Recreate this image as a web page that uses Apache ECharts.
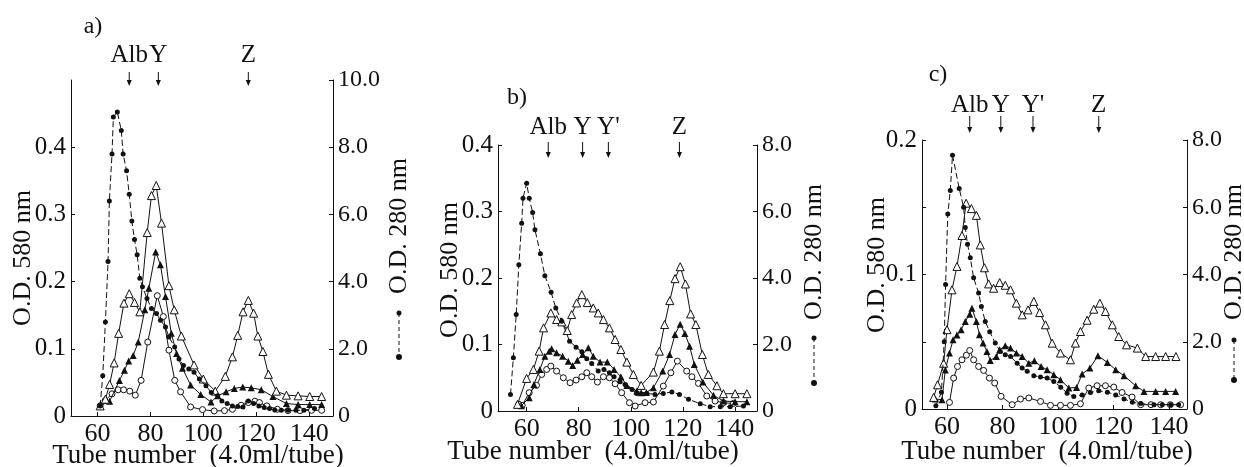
<!DOCTYPE html>
<html>
<head>
<meta charset="utf-8">
<script src="https://cdn.jsdelivr.net/npm/echarts@6/dist/echarts.min.js"></script>
<style>
html,body{margin:0;padding:0;background:#fff;}
#c{width:1244px;height:467px;}
</style>
</head>
<body>
<div id="c"></div>
<script>
// ---------- tick labels ----------
const xTickValues = [60, 80, 100, 120, 140];
const aLeftTicks = [0, 0.1, 0.2, 0.3, 0.4];
const aRightTicks = [0, 2, 4, 6, 8, 10];
const bLeftTicks = [0, 0.1, 0.2, 0.3, 0.4];
const bRightTicks = [0, 2, 4, 6, 8];
const cLeftTicks = [0, 0.1, 0.2];
const cRightTicks = [0, 2, 4, 6, 8];

// ---------- annotation peaks (tube numbers) ----------
const aPeakNames = ['Alb', 'Y', 'Z'];
const aPeakTubes = [72, 83, 117];
const bPeakNames = ['Alb', 'Y', "Y'", 'Z'];
const bPeakTubes = [68.3, 81.5, 91.4, 118.7];
const cPeakNames = ['Alb', 'Y', "Y'", 'Z'];
const cPeakTubes = [68.2, 79.4, 91, 114.7];

// ---------- panel a ----------
const aX280 = [61, 62, 63, 64, 64.5, 65.5, 66, 67.5, 69, 69.7, 71, 72, 73, 74, 75, 76, 77, 78.7, 80.4, 82.3, 83.8, 85.7, 87, 89.2, 90.8, 92.5, 94.5, 96.5, 98.5, 101, 103, 105.4, 107, 109, 111, 113, 115, 117, 119, 121, 123, 125, 127, 129.5, 132, 135, 138, 142];
const aY280 = [0.3, 1.2, 2.8, 4.6, 6.4, 7.8, 8.9, 9.05, 8.5, 7.8, 7.3, 6.6, 5.8, 5.25, 4.8, 4.1, 3.85, 3.5, 3.2, 3.05, 2.85, 2.65, 2.35, 2.05, 1.7, 1.5, 1.4, 1.3, 1.1, 0.9, 0.7, 0.6, 0.45, 0.37, 0.3, 0.28, 0.27, 0.45, 0.37, 0.3, 0.25, 0.22, 0.18, 0.17, 0.17, 0.17, 0.17, 0.22];
const aXOpenTri = [61, 63, 64.6, 66.3, 68, 70, 72, 74, 76, 78.8, 80.4, 82.2, 84.2, 87, 89, 91.7, 96.5, 100, 104.5, 108.3, 111, 113, 115, 117, 119, 120.6, 122.5, 124.6, 127.6, 131.4, 135.8, 140.2, 144.7];
const aYOpenTri = [0.015, 0.025, 0.047, 0.079, 0.123, 0.168, 0.182, 0.169, 0.155, 0.273, 0.328, 0.343, 0.287, 0.194, 0.158, 0.119, 0.076, 0.055, 0.037, 0.059, 0.088, 0.12, 0.155, 0.172, 0.153, 0.119, 0.096, 0.062, 0.037, 0.031, 0.030, 0.029, 0.029];
const aXFillTri = [61, 64.6, 68.3, 70.2, 71.8, 73.5, 75.4, 77.9, 79.4, 82, 83.8, 85.7, 87.9, 89.9, 92.1, 95.2, 99, 102.9, 105.5, 108.6, 111.7, 114.9, 118.1, 121.9, 126.3, 131.4, 135.8, 140.2, 144.7];
const aYFillTri = [0.015, 0.022, 0.053, 0.068, 0.082, 0.09, 0.11, 0.158, 0.19, 0.244, 0.225, 0.178, 0.123, 0.093, 0.071, 0.046, 0.032, 0.021, 0.030, 0.036, 0.041, 0.043, 0.042, 0.039, 0.029, 0.0185, 0.017, 0.017, 0.017];
const aXOpenCir = [61, 62.9, 65.5, 67.8, 69.9, 72.2, 74.3, 76.5, 79, 82.6, 84.9, 87, 89.2, 91.4, 95.2, 99.7, 104.1, 108, 111, 114.3, 117, 119.5, 121.2, 124, 128, 132, 136.5, 140.9, 144.7];
const aYOpenCir = [0.015, 0.023, 0.033, 0.039, 0.039, 0.037, 0.031, 0.053, 0.11, 0.179, 0.148, 0.098, 0.053, 0.036, 0.0135, 0.0095, 0.0075, 0.008, 0.010, 0.016, 0.020, 0.022, 0.020, 0.015, 0.010, 0.008, 0.008, 0.0085, 0.0085];

// ---------- panel b ----------
const bX280 = [53.8, 54.9, 56, 57, 58.1, 58.6, 60, 61, 62.3, 63.2, 65.3, 67, 69.4, 71.2, 73.5, 76.5, 79, 81.2, 83.1, 85, 87.5, 89.7, 91.8, 93.6, 95.9, 97.8, 100.5, 102.3, 106.2, 109.3, 112.5, 115.8, 118.7, 122.2, 126.7, 130.5, 134.4, 138.2, 143.3];
const bY280 = [0.5, 1.6, 2.9, 4.4, 5.65, 6.4, 6.85, 6.4, 5.97, 5.45, 4.73, 4.07, 3.57, 3.1, 2.7, 2.1, 1.92, 1.78, 1.57, 1.43, 1.2, 1.25, 1.15, 1.03, 0.88, 0.8, 0.65, 0.53, 0.53, 0.5, 0.53, 0.57, 0.5, 0.35, 0.22, 0.13, 0.13, 0.13, 0.15];
const bXOpenTri = [56.5, 60, 62.6, 64.8, 66.5, 69.3, 71.5, 73.5, 75.6, 77.3, 79.2, 81.2, 83.3, 85.6, 87.5, 89.5, 91.8, 94, 96.2, 98.5, 101, 104, 108.7, 111, 113, 115, 117, 119, 121, 123, 125, 127.5, 129.8, 133.1, 135.6, 140.1, 144.6];
const bYOpenTri = [0.010, 0.049, 0.0625, 0.09, 0.125, 0.1475, 0.1375, 0.134, 0.121, 0.145, 0.1625, 0.175, 0.163, 0.155, 0.1475, 0.1375, 0.125, 0.1075, 0.0925, 0.0735, 0.055, 0.0385, 0.0585, 0.09, 0.13, 0.166, 0.199, 0.217, 0.191, 0.146, 0.130, 0.085, 0.055, 0.038, 0.026, 0.026, 0.026];
const bXFillTri = [58, 61, 62.8, 65.1, 67, 68.7, 69.6, 71.5, 73.8, 76, 77.7, 79.5, 81.5, 83.7, 85.6, 88.2, 91, 93.6, 96.2, 98.5, 102.3, 104, 106, 108.7, 112.3, 114.9, 117, 119, 120.8, 122.6, 124.4, 127.7, 131.8, 135.6, 140.1, 144.6];
const bYFillTri = [0.008, 0.02, 0.04, 0.0625, 0.0825, 0.09, 0.0935, 0.0875, 0.0825, 0.075, 0.0685, 0.0765, 0.085, 0.095, 0.0825, 0.0735, 0.0735, 0.0625, 0.0515, 0.0385, 0.030, 0.0275, 0.028, 0.035, 0.06, 0.085, 0.115, 0.1305, 0.1165, 0.0975, 0.07, 0.0435, 0.0235, 0.015, 0.014, 0.014];
const bXOpenCir = [57, 58.3, 61, 63.8, 65.8, 67.7, 69.3, 71.5, 74.1, 76.7, 79, 81.2, 83.1, 85, 87.2, 89.5, 91.8, 94, 96.5, 99.5, 101.7, 105.5, 108.7, 112.5, 115.4, 117.9, 121.5, 123.5, 126, 129.2, 132.4, 135.6, 139.5];
const bYOpenCir = [0.010, 0.0085, 0.0275, 0.0385, 0.055, 0.0625, 0.0675, 0.060, 0.050, 0.0425, 0.0465, 0.0515, 0.0575, 0.0515, 0.0435, 0.0515, 0.050, 0.041, 0.0275, 0.0125, 0.0075, 0.0125, 0.0135, 0.0375, 0.0575, 0.075, 0.060, 0.0515, 0.0415, 0.0225, 0.015, 0.0125, 0.0115];

// ---------- panel c ----------
const cX280 = [56, 58, 59, 59.5, 60.3, 61.2, 62, 64.4, 66, 66.6, 67.4, 68.4, 69.6, 71.4, 72.4, 73.8, 75.4, 77.4, 79.2, 81, 82.9, 85.3, 87.1, 88.9, 91.3, 93.7, 96.1, 98.5, 101, 103.3, 105.7, 108.7, 111.7, 114.7, 117.8, 120.8, 123.8, 126.8, 129.8, 134.6, 137.6, 140.6, 143.5];
const cY280 = [0.1, 0.5, 2.0, 3.7, 5.8, 6.5, 7.55, 6.56, 6.0, 5.4, 4.9, 4.5, 3.9, 3.45, 3.05, 2.6, 2.3, 1.96, 1.71, 1.61, 1.56, 1.36, 1.22, 1.12, 0.99, 0.95, 0.92, 0.82, 0.65, 0.47, 0.37, 0.42, 0.49, 0.54, 0.5, 0.42, 0.3, 0.2, 0.16, 0.13, 0.13, 0.13, 0.13];
const cXOpenTri = [55.2, 56.6, 58.8, 60, 61.8, 63.6, 65.4, 66.9, 68.8, 70.6, 72, 73.5, 75, 76.8, 79, 81, 82.9, 85, 87.1, 89.2, 91.3, 93.4, 95.5, 97.9, 100.9, 104.5, 106.3, 108.1, 110.5, 112.9, 115.1, 117.1, 119.6, 121.9, 124.7, 128.6, 131.6, 135.2, 138.8, 142.5];
const cYOpenTri = [0.0086, 0.018, 0.034, 0.059, 0.0886, 0.106, 0.129, 0.153, 0.149, 0.144, 0.122, 0.105, 0.093, 0.0898, 0.094, 0.092, 0.0886, 0.0787, 0.070, 0.0737, 0.080, 0.0717, 0.0626, 0.049, 0.0416, 0.0366, 0.049, 0.0576, 0.066, 0.0742, 0.0787, 0.0725, 0.0626, 0.0539, 0.0477, 0.0453, 0.039, 0.039, 0.039, 0.039];
const cXFillTri = [55.8, 58.2, 59.4, 60.9, 62.2, 63.6, 65.1, 66.6, 68.2, 69, 70.6, 71.7, 73, 74.4, 75.6, 77.8, 79, 81, 82.9, 85, 87.1, 89.5, 91.5, 93.9, 96.1, 98.5, 100.9, 103.9, 106.7, 108.7, 111.5, 114.4, 117.8, 120.8, 123.8, 128, 131, 135.2, 138.8, 142.4];
const cYFillTri = [0.0074, 0.0069, 0.029, 0.0416, 0.0514, 0.055, 0.0589, 0.065, 0.0705, 0.075, 0.065, 0.0552, 0.049, 0.0428, 0.0361, 0.039, 0.044, 0.047, 0.0453, 0.0416, 0.039, 0.034, 0.0359, 0.0316, 0.0292, 0.0255, 0.0218, 0.0156, 0.016, 0.026, 0.0304, 0.0396, 0.0346, 0.0292, 0.0247, 0.0173, 0.0131, 0.0131, 0.0131, 0.0131];
const cXOpenCir = [60.9, 62.4, 63.8, 65.4, 67, 68.2, 69.6, 71.4, 73.2, 75.3, 77.2, 79.5, 83.5, 86.5, 89.5, 93.7, 97.3, 100.9, 104.5, 108.1, 111.1, 114.1, 117.1, 120.1, 123.1, 126.7, 129.8, 133.5, 137, 140.5, 144.2];
const cYOpenCir = [0.0049, 0.023, 0.0316, 0.0366, 0.040, 0.0435, 0.0366, 0.0316, 0.0287, 0.023, 0.0193, 0.0094, 0.0032, 0.0074, 0.0082, 0.0056, 0.0027, 0.0027, 0.0027, 0.0039, 0.0156, 0.0173, 0.0173, 0.0163, 0.0123, 0.0089, 0.0032, 0.0032, 0.0032, 0.0032, 0.0032];

// ---------- build ----------
const FONT = '"Liberation Serif", "DejaVu Serif", serif';
const INK = '#111';
const chart = echarts.init(document.getElementById('c'), null, {renderer: 'canvas', width: 1244, height: 467});

const grids = [
  {left: 71, top: 80, width: 262, height: 336},
  {left: 498, top: 145, width: 259, height: 266},
  {left: 922, top: 140, width: 265, height: 269}
];
const xRanges = [[50, 149], [49, 148.5], [51, 146.5]];
const leftMax = [0.5, 0.4, 0.2];
const rightMax = [10, 8, 8];
const leftTicks = [aLeftTicks, bLeftTicks, cLeftTicks];
const rightTicks = [aRightTicks, bRightTicks, cRightTicks];
const leftMinorTicks = [aLeftTicks, bLeftTicks, [0, 0.05, 0.1, 0.15, 0.2]];

function fmt(v) { return v === 0 ? '0' : v.toFixed(1); }

const xAxes = grids.map((g, i) => ({
  type: 'value', gridIndex: i, min: xRanges[i][0], max: xRanges[i][1],
  axisLine: {show: true, lineStyle: {color: INK, width: 1}},
  axisTick: {show: true, inside: true, length: 4, lineStyle: {color: INK}, customValues: xTickValues},
  axisLabel: {show: true, customValues: xTickValues, fontFamily: FONT, fontSize: 26, color: INK, margin: 5},
  splitLine: {show: false}
}));
const yAxes = [];
grids.forEach((g, i) => {
  yAxes.push({
    type: 'value', gridIndex: i, position: 'left', min: 0, max: leftMax[i],
    axisLine: {show: true, onZero: false, lineStyle: {color: INK, width: 1}},
    axisTick: {show: true, inside: true, length: 4, lineStyle: {color: INK}, customValues: leftMinorTicks[i]},
    axisLabel: {show: true, customValues: leftTicks[i], formatter: fmt, fontFamily: FONT, fontSize: 25, color: INK, margin: 5},
    splitLine: {show: false}
  });
  yAxes.push({
    type: 'value', gridIndex: i, position: 'right', min: 0, max: rightMax[i],
    axisLine: {show: true, onZero: false, lineStyle: {color: INK, width: 1}},
    axisTick: {show: true, inside: true, length: 4, lineStyle: {color: INK}, customValues: rightTicks[i]},
    axisLabel: {show: true, customValues: rightTicks[i], formatter: fmt, fontFamily: FONT, fontSize: 24, color: INK, margin: 5},
    splitLine: {show: false}
  });
});

function zip(xs, ys) { return xs.map((x, k) => [x, ys[k]]); }
function ser(name, xs, ys, gi, right, kind) {
  const s = {
    name: name, type: 'line', xAxisIndex: gi, yAxisIndex: gi * 2 + (right ? 1 : 0),
    data: zip(xs, ys), animation: false, silent: true,
    lineStyle: {color: INK, width: 1, type: kind === 'fc' ? [6, 3] : 'solid'},
    emphasis: {disabled: true}
  };
  if (kind === 'fc') { s.symbol = 'circle'; s.symbolSize = 5; s.itemStyle = {color: INK}; s.z = 5; }
  if (kind === 'ot') { s.symbol = 'triangle'; s.symbolSize = 8; s.itemStyle = {color: '#fff', borderColor: INK, borderWidth: 1}; s.z = 4; }
  if (kind === 'ft') { s.symbol = 'triangle'; s.symbolSize = 7; s.itemStyle = {color: INK}; s.z = 3; }
  if (kind === 'oc') { s.symbol = 'circle'; s.symbolSize = 6; s.itemStyle = {color: '#fff', borderColor: INK, borderWidth: 1}; s.z = 2; }
  return s;
}

const series = [
  ser('a OD280', aX280, aY280, 0, true, 'fc'),
  ser('a open triangle', aXOpenTri, aYOpenTri, 0, false, 'ot'),
  ser('a filled triangle', aXFillTri, aYFillTri, 0, false, 'ft'),
  ser('a open circle', aXOpenCir, aYOpenCir, 0, false, 'oc'),
  ser('b OD280', bX280, bY280, 1, true, 'fc'),
  ser('b open triangle', bXOpenTri, bYOpenTri, 1, false, 'ot'),
  ser('b filled triangle', bXFillTri, bYFillTri, 1, false, 'ft'),
  ser('b open circle', bXOpenCir, bYOpenCir, 1, false, 'oc'),
  ser('c OD280', cX280, cY280, 2, true, 'fc'),
  ser('c open triangle', cXOpenTri, cYOpenTri, 2, false, 'ot'),
  ser('c filled triangle', cXFillTri, cYFillTri, 2, false, 'ft'),
  ser('c open circle', cXOpenCir, cYOpenCir, 2, false, 'oc')
];

function txt(t, x, y, size, rot) {
  return {type: 'text', x: x, y: y, rotation: rot || 0, silent: true,
    style: {text: t, fill: INK, font: size + 'px ' + FONT, align: 'center', verticalAlign: 'middle'}};
}
function legendSym(x, y1, y2) {
  return [
    {type: 'line', silent: true, shape: {x1: x, y1: y1, x2: x, y2: y2}, style: {stroke: INK, lineWidth: 1, lineDash: [4, 3]}},
    {type: 'circle', silent: true, shape: {cx: x, cy: y1, r: 2.5}, style: {fill: INK}},
    {type: 'circle', silent: true, shape: {cx: x, cy: y2, r: 3}, style: {fill: INK}}
  ];
}

const staticGraphics = [
  txt('a)', 93, 27, 24), txt('b)', 517, 98, 24), txt('c)', 938, 75, 24),
  txt('O.D. 580 nm', 23, 258, 26, Math.PI / 2),
  txt('O.D. 580 nm', 450, 270, 26, Math.PI / 2),
  txt('O.D. 580 nm', 877, 265, 26, Math.PI / 2),
  txt('O.D. 280 nm', 399, 226, 26, Math.PI / 2),
  txt('O.D. 280 nm', 814, 252, 26, Math.PI / 2),
  txt('O.D. 280 nm', 1234, 252, 26, Math.PI / 2),
  txt('Tube number  (4.0ml/tube)', 198, 456, 27),
  txt('Tube number  (4.0ml/tube)', 593, 452, 27),
  txt('Tube number  (4.0ml/tube)', 1047, 452, 27)
].concat(legendSym(399, 313, 357), legendSym(814, 338, 383), legendSym(1234, 340, 380));

chart.setOption({
  backgroundColor: '#fff',
  animation: false,
  grid: grids,
  xAxis: xAxes,
  yAxis: yAxes,
  series: series,
  graphic: staticGraphics
});

// annotation arrows positioned through the x axes
const peakSets = [[aPeakNames, aPeakTubes], [bPeakNames, bPeakTubes], [cPeakNames, cPeakTubes]];
const arrowY = [[55, 72, 86], [127, 142, 158], [105, 116, 133]];
const dyn = [];
peakSets.forEach((ps, i) => {
  ps[0].forEach((nm, k) => {
    const px = chart.convertToPixel({xAxisIndex: i}, ps[1][k]);
    const [ly, y1, y2] = arrowY[i];
    dyn.push(txt(nm, px, ly, 25));
    dyn.push({type: 'line', silent: true, shape: {x1: px, y1: y1, x2: px, y2: y2 - 2}, style: {stroke: INK, lineWidth: 1}});
    dyn.push({type: 'polygon', silent: true, shape: {points: [[px - 2.5, y2 - 6], [px + 2.5, y2 - 6], [px, y2]]}, style: {fill: INK}});
  });
});
chart.setOption({graphic: staticGraphics.concat(dyn)});
</script>
</body>
</html>
